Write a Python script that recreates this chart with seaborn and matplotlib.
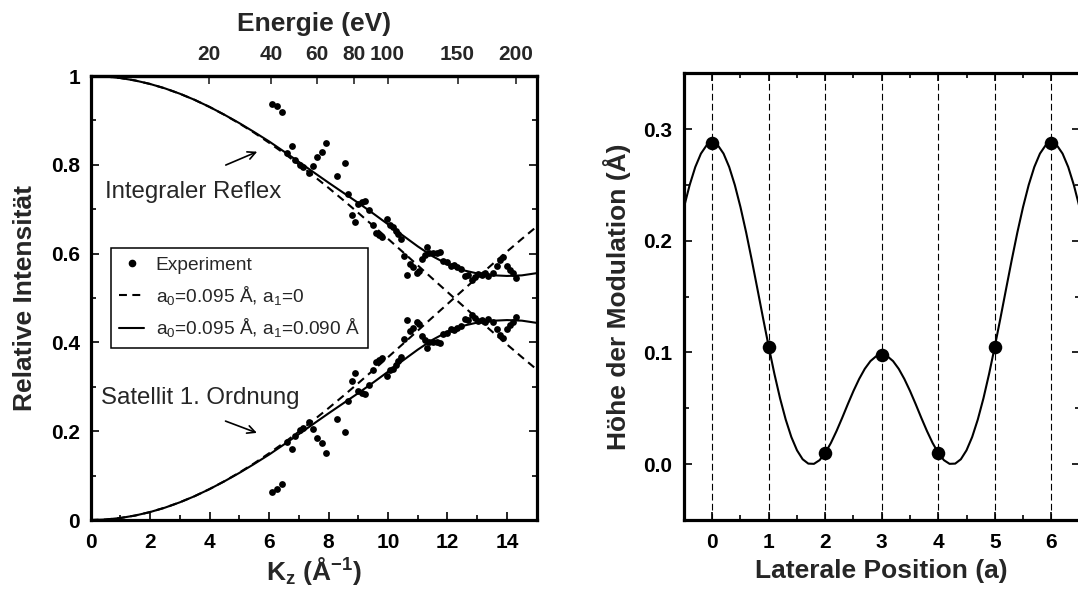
import numpy as np
import matplotlib
matplotlib.use("Agg")
import matplotlib.pyplot as plt
from matplotlib.ticker import MultipleLocator, FixedLocator, NullLocator, FuncFormatter
from matplotlib.lines import Line2D
import seaborn as sns

# ---------------- data: diffraction intensities vs. K_z ----------------
kz_grid = np.arange(0, 15.01, 0.5)

# model a0=0.095 Å, a1=0
reflex_a1_zero = [1.0000, 0.9989, 0.9955, 0.9899, 0.9821, 0.9722, 0.9602, 0.9462, 0.9303, 0.9126,
                  0.8932, 0.8723, 0.8498, 0.8261, 0.8011, 0.7750, 0.7481, 0.7203, 0.6918, 0.6627,
                  0.6333, 0.6035, 0.5735, 0.5434, 0.5134, 0.4835, 0.4538, 0.4244, 0.3954, 0.3669,
                  0.3390]
satellite_a1_zero = [0.0000, 0.0011, 0.0045, 0.0101, 0.0179, 0.0278, 0.0398, 0.0538, 0.0697, 0.0874,
                     0.1068, 0.1277, 0.1502, 0.1739, 0.1989, 0.2250, 0.2519, 0.2797, 0.3082, 0.3373,
                     0.3667, 0.3965, 0.4265, 0.4566, 0.4866, 0.5165, 0.5462, 0.5756, 0.6046, 0.6331,
                     0.6610]

# model a0=0.095 Å, a1=0.090 Å
reflex_a1_090 = [1.0000, 0.9989, 0.9955, 0.9899, 0.9821, 0.9722, 0.9602, 0.9463, 0.9304, 0.9128,
                 0.8940, 0.8738, 0.8528, 0.8300, 0.8068, 0.7832, 0.7598, 0.7370, 0.7142, 0.6905,
                 0.6660, 0.6408, 0.6163, 0.5940, 0.5760, 0.5630, 0.5553, 0.5513, 0.5497, 0.5510,
                 0.5560]
satellite_a1_090 = [0.0000, 0.0011, 0.0045, 0.0101, 0.0179, 0.0278, 0.0398, 0.0537, 0.0696, 0.0872,
                    0.1060, 0.1262, 0.1472, 0.1700, 0.1932, 0.2168, 0.2402, 0.2630, 0.2858, 0.3095,
                    0.3340, 0.3592, 0.3837, 0.4060, 0.4240, 0.4370, 0.4447, 0.4487, 0.4503, 0.4490,
                    0.4440]

# measured intensities
kz_exp = [6.09, 6.26, 6.43, 6.59, 6.76, 6.87, 7.04, 7.15, 7.36, 7.49, 7.62, 7.77, 7.92, 8.27,
          8.55, 8.67, 8.78, 8.90, 9.00, 9.13, 9.24, 9.37, 9.49, 9.60, 9.70, 9.79, 9.98, 10.07,
          10.18, 10.27, 10.35, 10.43, 10.54, 10.65, 10.74, 10.85, 10.99, 11.05, 11.13, 11.24,
          11.30, 11.39, 11.52, 11.64, 11.75, 11.86, 11.99, 12.11, 12.22, 12.33, 12.44, 12.59,
          12.70, 12.81, 12.92, 13.04, 13.15, 13.26, 13.37, 13.52, 13.65, 13.76, 13.87, 13.99,
          14.10, 14.19, 14.30]
reflex_exp = [0.938, 0.932, 0.920, 0.826, 0.842, 0.811, 0.800, 0.796, 0.781, 0.797, 0.818, 0.829,
              0.850, 0.775, 0.804, 0.734, 0.688, 0.672, 0.711, 0.716, 0.718, 0.699, 0.664, 0.647,
              0.641, 0.637, 0.678, 0.664, 0.661, 0.652, 0.644, 0.634, 0.595, 0.552, 0.577, 0.569,
              0.556, 0.561, 0.587, 0.597, 0.614, 0.601, 0.602, 0.602, 0.604, 0.584, 0.580, 0.571,
              0.574, 0.569, 0.565, 0.550, 0.552, 0.541, 0.548, 0.554, 0.552, 0.556, 0.550, 0.556,
              0.571, 0.586, 0.593, 0.571, 0.563, 0.557, 0.544]
satellite_exp = [0.064, 0.070, 0.082, 0.176, 0.160, 0.190, 0.203, 0.207, 0.221, 0.204, 0.184, 0.173,
                 0.152, 0.227, 0.198, 0.268, 0.313, 0.330, 0.291, 0.286, 0.284, 0.303, 0.338, 0.355,
                 0.361, 0.365, 0.324, 0.338, 0.341, 0.350, 0.358, 0.368, 0.407, 0.450, 0.425, 0.433,
                 0.446, 0.441, 0.415, 0.405, 0.388, 0.401, 0.400, 0.400, 0.398, 0.418, 0.422, 0.431,
                 0.428, 0.433, 0.437, 0.452, 0.450, 0.461, 0.454, 0.448, 0.450, 0.446, 0.452, 0.446,
                 0.431, 0.416, 0.409, 0.431, 0.439, 0.445, 0.458]

energy_ticks = [20, 40, 60, 80, 100, 150, 200]

# ---------------- data: height profile of the modulation ----------------
lateral_x = np.round(np.arange(-0.5, 6.51, 0.1), 1)
height_profile = [0.2301, 0.2499, 0.2661, 0.2781, 0.2855,
                  0.2880, 0.2855, 0.2781, 0.2661, 0.2499, 0.2301, 0.2075, 0.1827, 0.1568, 0.1306,
                  0.1051, 0.0809, 0.0590, 0.0400, 0.0243, 0.0124, 0.0044, 0.0005, 0.0003, 0.0036,
                  0.0101, 0.0190, 0.0297, 0.0415, 0.0538, 0.0656, 0.0763, 0.0854, 0.0923, 0.0966,
                  0.0980, 0.0966, 0.0923, 0.0854, 0.0763, 0.0656, 0.0538, 0.0415, 0.0297, 0.0190,
                  0.0101, 0.0036, 0.0003, 0.0005, 0.0044, 0.0124, 0.0243, 0.0400, 0.0590, 0.0809,
                  0.1051, 0.1306, 0.1568, 0.1827, 0.2075, 0.2301, 0.2499, 0.2661, 0.2781, 0.2855,
                  0.2880, 0.2855, 0.2781, 0.2661, 0.2499, 0.2301]
lattice_sites = [0, 1, 2, 3, 4, 5, 6]
site_heights = [0.288, 0.105, 0.010, 0.098, 0.010, 0.105, 0.288]

# ---------------- style ----------------
sns.set_theme(style="ticks")
plt.rcParams["font.family"] = ["Liberation Sans", "DejaVu Sans"]
plt.rcParams["mathtext.fontset"] = "custom"
plt.rcParams["mathtext.rm"] = "Liberation Sans"
plt.rcParams["mathtext.it"] = "Liberation Sans:italic"
plt.rcParams["mathtext.bf"] = "Liberation Sans:bold"
plt.rcParams["axes.linewidth"] = 2.3
plt.rcParams["axes.edgecolor"] = "black"

TICK_FS = 15
LABEL_FS = 19
dash_model = (0, (3.8, 2.6))

fig = plt.figure(figsize=(10.78, 5.92), dpi=100)
ax1 = fig.add_axes([0.0840, 0.1216, 0.4139, 0.7500])
ax2 = fig.add_axes([0.6345, 0.1216, 0.3669, 0.7546])


def style_ticks(ax):
    ax.tick_params(which="both", direction="in", color="black", width=1.2,
                   labelsize=TICK_FS, labelcolor="black")
    ax.tick_params(which="major", length=6)
    ax.tick_params(which="minor", length=3.5)
    for lab in ax.get_xticklabels() + ax.get_yticklabels():
        lab.set_fontweight("bold")


# ---------------- left panel ----------------
sns.lineplot(x=kz_grid, y=reflex_a1_zero, ax=ax1, color="black", lw=1.5,
             estimator=None, sort=False, legend=False)
sns.lineplot(x=kz_grid, y=satellite_a1_zero, ax=ax1, color="black", lw=1.5,
             estimator=None, sort=False, legend=False)
for ln in ax1.lines:
    ln.set_linestyle(dash_model)
sns.lineplot(x=kz_grid, y=reflex_a1_090, ax=ax1, color="black", lw=1.5,
             estimator=None, sort=False, legend=False)
sns.lineplot(x=kz_grid, y=satellite_a1_090, ax=ax1, color="black", lw=1.5,
             estimator=None, sort=False, legend=False)
sns.scatterplot(x=kz_exp, y=reflex_exp, ax=ax1, color="black", s=24, linewidth=0,
                legend=False, zorder=3)
sns.scatterplot(x=kz_exp, y=satellite_exp, ax=ax1, color="black", s=24, linewidth=0,
                legend=False, zorder=3)

ax1.set_xlim(0, 15)
ax1.set_ylim(0, 1)
ax1.xaxis.set_major_locator(MultipleLocator(2))
ax1.xaxis.set_minor_locator(MultipleLocator(1))
ax1.yaxis.set_major_locator(MultipleLocator(0.2))
ax1.yaxis.set_minor_locator(MultipleLocator(0.1))
ax1.yaxis.set_major_formatter(FuncFormatter(lambda v, p: f"{v:g}"))
ax1.tick_params(which="both", bottom=True, top=False, left=True, right=True)
style_ticks(ax1)
ax1.tick_params(axis="y", pad=7.6)
ax1.tick_params(axis="x", pad=9)

ax1.set_xlabel(r"$\mathbf{K_z\ (Å^{-1})}$", fontsize=LABEL_FS, fontweight="bold")
ax1.xaxis.set_label_coords(0.5, -0.079)
ax1.set_ylabel("Relative Intensität", fontsize=LABEL_FS, fontweight="bold")
ax1.yaxis.set_label_coords(-0.12, 0.5)

# energy scale on top: K_z = 1.0246 * sqrt(E - 5)
def kz_to_energy(k):
    return (np.asarray(k, dtype=float) / 1.0246) ** 2 + 5.0


def energy_to_kz(e):
    return 1.0246 * np.sqrt(np.clip(np.asarray(e, dtype=float) - 5.0, 0, None))


sec = ax1.secondary_xaxis("top", functions=(kz_to_energy, energy_to_kz))
sec.xaxis.set_major_locator(FixedLocator(energy_ticks))
sec.xaxis.set_minor_locator(NullLocator())
sec.tick_params(direction="in", length=6, width=1.2, labelsize=TICK_FS, pad=8.4)
for lab in sec.get_xticklabels():
    lab.set_fontweight("bold")
sec.spines["top"].set_linewidth(2.3)
sec.set_xlabel("Energie (eV)", fontsize=LABEL_FS, fontweight="bold")
sec.xaxis.set_label_coords(0.5, 1.101, transform=ax1.transAxes)

ax1.text(0.49, 0.739, "Integraler Reflex", fontsize=17.3, ha="left", va="center")
ax1.annotate("", xy=(5.69, 0.832), xytext=(4.46, 0.797),
             arrowprops=dict(arrowstyle="->", color="black", lw=1.2, mutation_scale=14))
ax1.text(0.35, 0.274, "Satellit 1. Ordnung", fontsize=17.3, ha="left", va="center")
ax1.annotate("", xy=(5.68, 0.194), xytext=(4.45, 0.225),
             arrowprops=dict(arrowstyle="->", color="black", lw=1.2, mutation_scale=14))

handles = [
    Line2D([], [], ls="none", marker="o", ms=4.5, color="black"),
    Line2D([], [], ls=dash_model, lw=1.5, color="black"),
    Line2D([], [], ls="-", lw=1.5, color="black"),
]
labels = [
    "Experiment",
    r"$\mathrm{a_0}$=0.095 Å, $\mathrm{a_1}$=0",
    r"$\mathrm{a_0}$=0.095 Å, $\mathrm{a_1}$=0.090 Å",
]
leg = ax1.legend(handles, labels, loc="upper left", bbox_to_anchor=(0.0448, 0.6126),
                 borderaxespad=0, fontsize=13.8, frameon=True, fancybox=False,
                 edgecolor="black", framealpha=1, borderpad=0.45, handlelength=1.3,
                 handletextpad=0.6, labelspacing=0.5, numpoints=1)
leg.get_frame().set_linewidth(1.1)

# ---------------- right panel ----------------
for site in lattice_sites:
    ax2.axvline(site, color="black", lw=0.8, ls=(0, (6, 3)), zorder=1)
sns.lineplot(x=lateral_x, y=height_profile, ax=ax2, color="black", lw=1.5,
             estimator=None, sort=False, legend=False, zorder=2)
sns.scatterplot(x=lattice_sites, y=site_heights, ax=ax2, color="black", s=95,
                linewidth=0, legend=False, zorder=3)

ax2.set_xlim(-0.5, 6.5)
ax2.set_ylim(-0.05, 0.35)
ax2.xaxis.set_major_locator(MultipleLocator(1))
ax2.xaxis.set_minor_locator(FixedLocator([-0.5, 0.5, 1.5, 2.5, 3.5, 4.5, 5.5, 6.5]))
ax2.yaxis.set_major_locator(FixedLocator([0.0, 0.1, 0.2, 0.3]))
ax2.yaxis.set_minor_locator(MultipleLocator(0.05))
ax2.yaxis.set_major_formatter(FuncFormatter(lambda v, p: f"{v:.1f}"))
ax2.tick_params(which="both", bottom=True, top=True, left=True, right=True)
style_ticks(ax2)
ax2.tick_params(axis="y", pad=8.6)
ax2.tick_params(axis="x", pad=9)
ax2.set_xlabel("Laterale Position (a)", fontsize=LABEL_FS, fontweight="bold")
ax2.xaxis.set_label_coords(0.5, -0.0864)
ax2.set_ylabel("Höhe der Modulation (Å)", fontsize=LABEL_FS, fontweight="bold")
ax2.yaxis.set_label_coords(-0.134, 0.5)

fig.savefig("out.png", dpi=100)
